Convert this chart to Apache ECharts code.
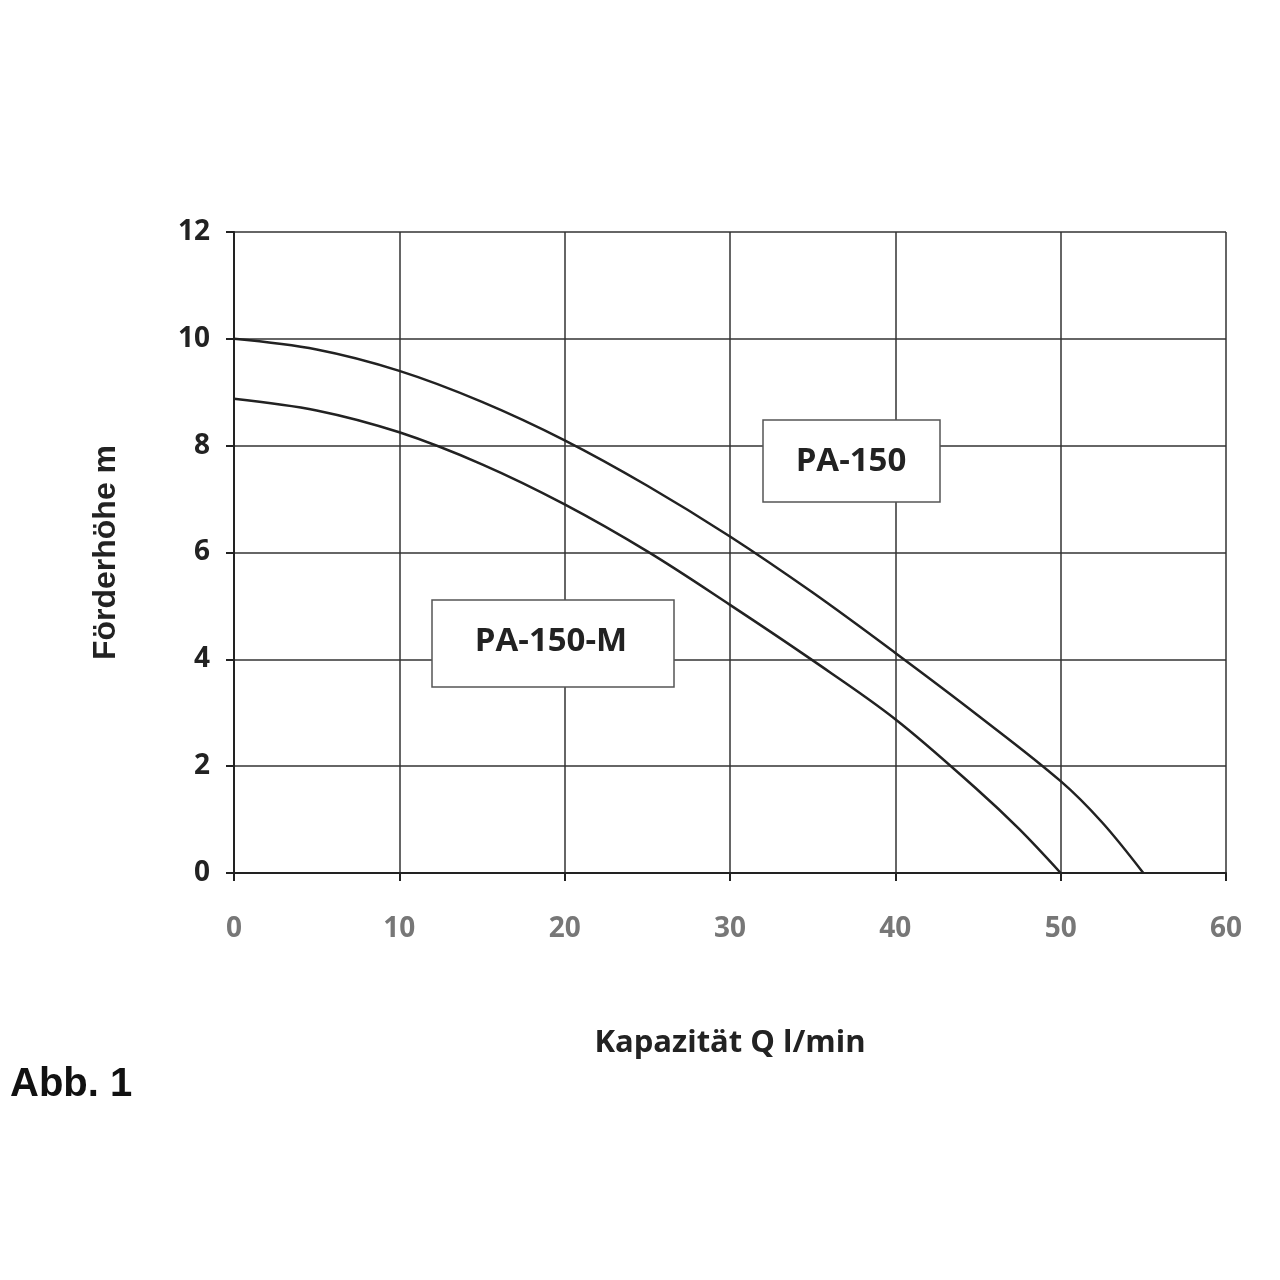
<!DOCTYPE html>
<html><head><meta charset="utf-8">
<script src="https://cdn.jsdelivr.net/npm/echarts@6/dist/echarts.min.js"></script>
<style>body{margin:0;background:#fff}#c{width:1280px;height:1280px}</style>
</head><body><div id="c"></div>
<script>
const xTicks=[0,10,20,30,40,50,60];
const pa150=[[0,10],[5,9.8],[10,9.4],[15,8.82],[20,8.1],[25,7.25],[30,6.3],[35,5.25],[40,4.12],[45,2.95],[50,1.72],[52.5,0.95],[55,0]];
const pa150m=[[0,8.88],[5,8.66],[10,8.25],[15,7.65],[20,6.9],[25,6.02],[30,5.02],[35,3.98],[40,2.88],[45,1.55],[47.5,0.82],[50,0]];
const chart=echarts.init(document.getElementById('c'));
chart.setOption({
  animation:false,
  grid:{left:234,right:54,top:232,bottom:407},
  xAxis:{type:'value',min:0,max:60,interval:10,
    name:'Kapazität Q l/min',nameLocation:'middle',nameGap:155,
    nameTextStyle:{fontFamily:'Open Sans',fontWeight:'bold',fontSize:31,color:'#222'},
    axisLine:{lineStyle:{color:'#222',width:2}},
    axisTick:{show:true,length:8,lineStyle:{color:'#222',width:2}},
    axisLabel:{fontFamily:'Open Sans',fontWeight:'bold',fontSize:28,color:'#777',margin:42},
    splitLine:{lineStyle:{color:'#333',width:1.5}}},
  yAxis:{type:'value',min:0,max:12,interval:2,
    name:'Förderhöhe m',nameLocation:'middle',nameGap:112,
    nameTextStyle:{fontFamily:'Liberation Sans',fontWeight:'bold',fontSize:32,color:'#222'},
    axisLine:{show:true,lineStyle:{color:'#222',width:2}},
    axisTick:{show:true,length:8,lineStyle:{color:'#222',width:2}},
    axisLabel:{fontFamily:'Open Sans',fontWeight:'bold',fontSize:28,color:'#222',margin:24},
    splitLine:{lineStyle:{color:'#333',width:1.5}}},
  series:[
    {type:'line',data:pa150,smooth:0.35,symbol:'none',lineStyle:{color:'#222',width:2.5}},
    {type:'line',data:pa150m,smooth:0.35,symbol:'none',lineStyle:{color:'#222',width:2.5}}
  ],
  graphic:[
    {type:'rect',shape:{x:763,y:420,width:177,height:82},style:{fill:'#fff',stroke:'#555',lineWidth:1.5},z:10},
    {type:'text',x:851,y:462,style:{text:'PA-150',fontFamily:'Open Sans',fontWeight:'bold',fontSize:33,fill:'#222',align:'center',verticalAlign:'middle'},z:11},
    {type:'rect',shape:{x:432,y:600,width:242,height:87},style:{fill:'#fff',stroke:'#555',lineWidth:1.5},z:10},
    {type:'text',x:551,y:642,style:{text:'PA-150-M',fontFamily:'Open Sans',fontWeight:'bold',fontSize:33,fill:'#222',align:'center',verticalAlign:'middle'},z:11},
    {type:'text',x:10,y:1085,style:{text:'Abb. 1',fontFamily:'Liberation Sans',fontWeight:'bold',fontSize:40,fill:'#111',verticalAlign:'middle'}}
  ]
});
</script></body></html>
